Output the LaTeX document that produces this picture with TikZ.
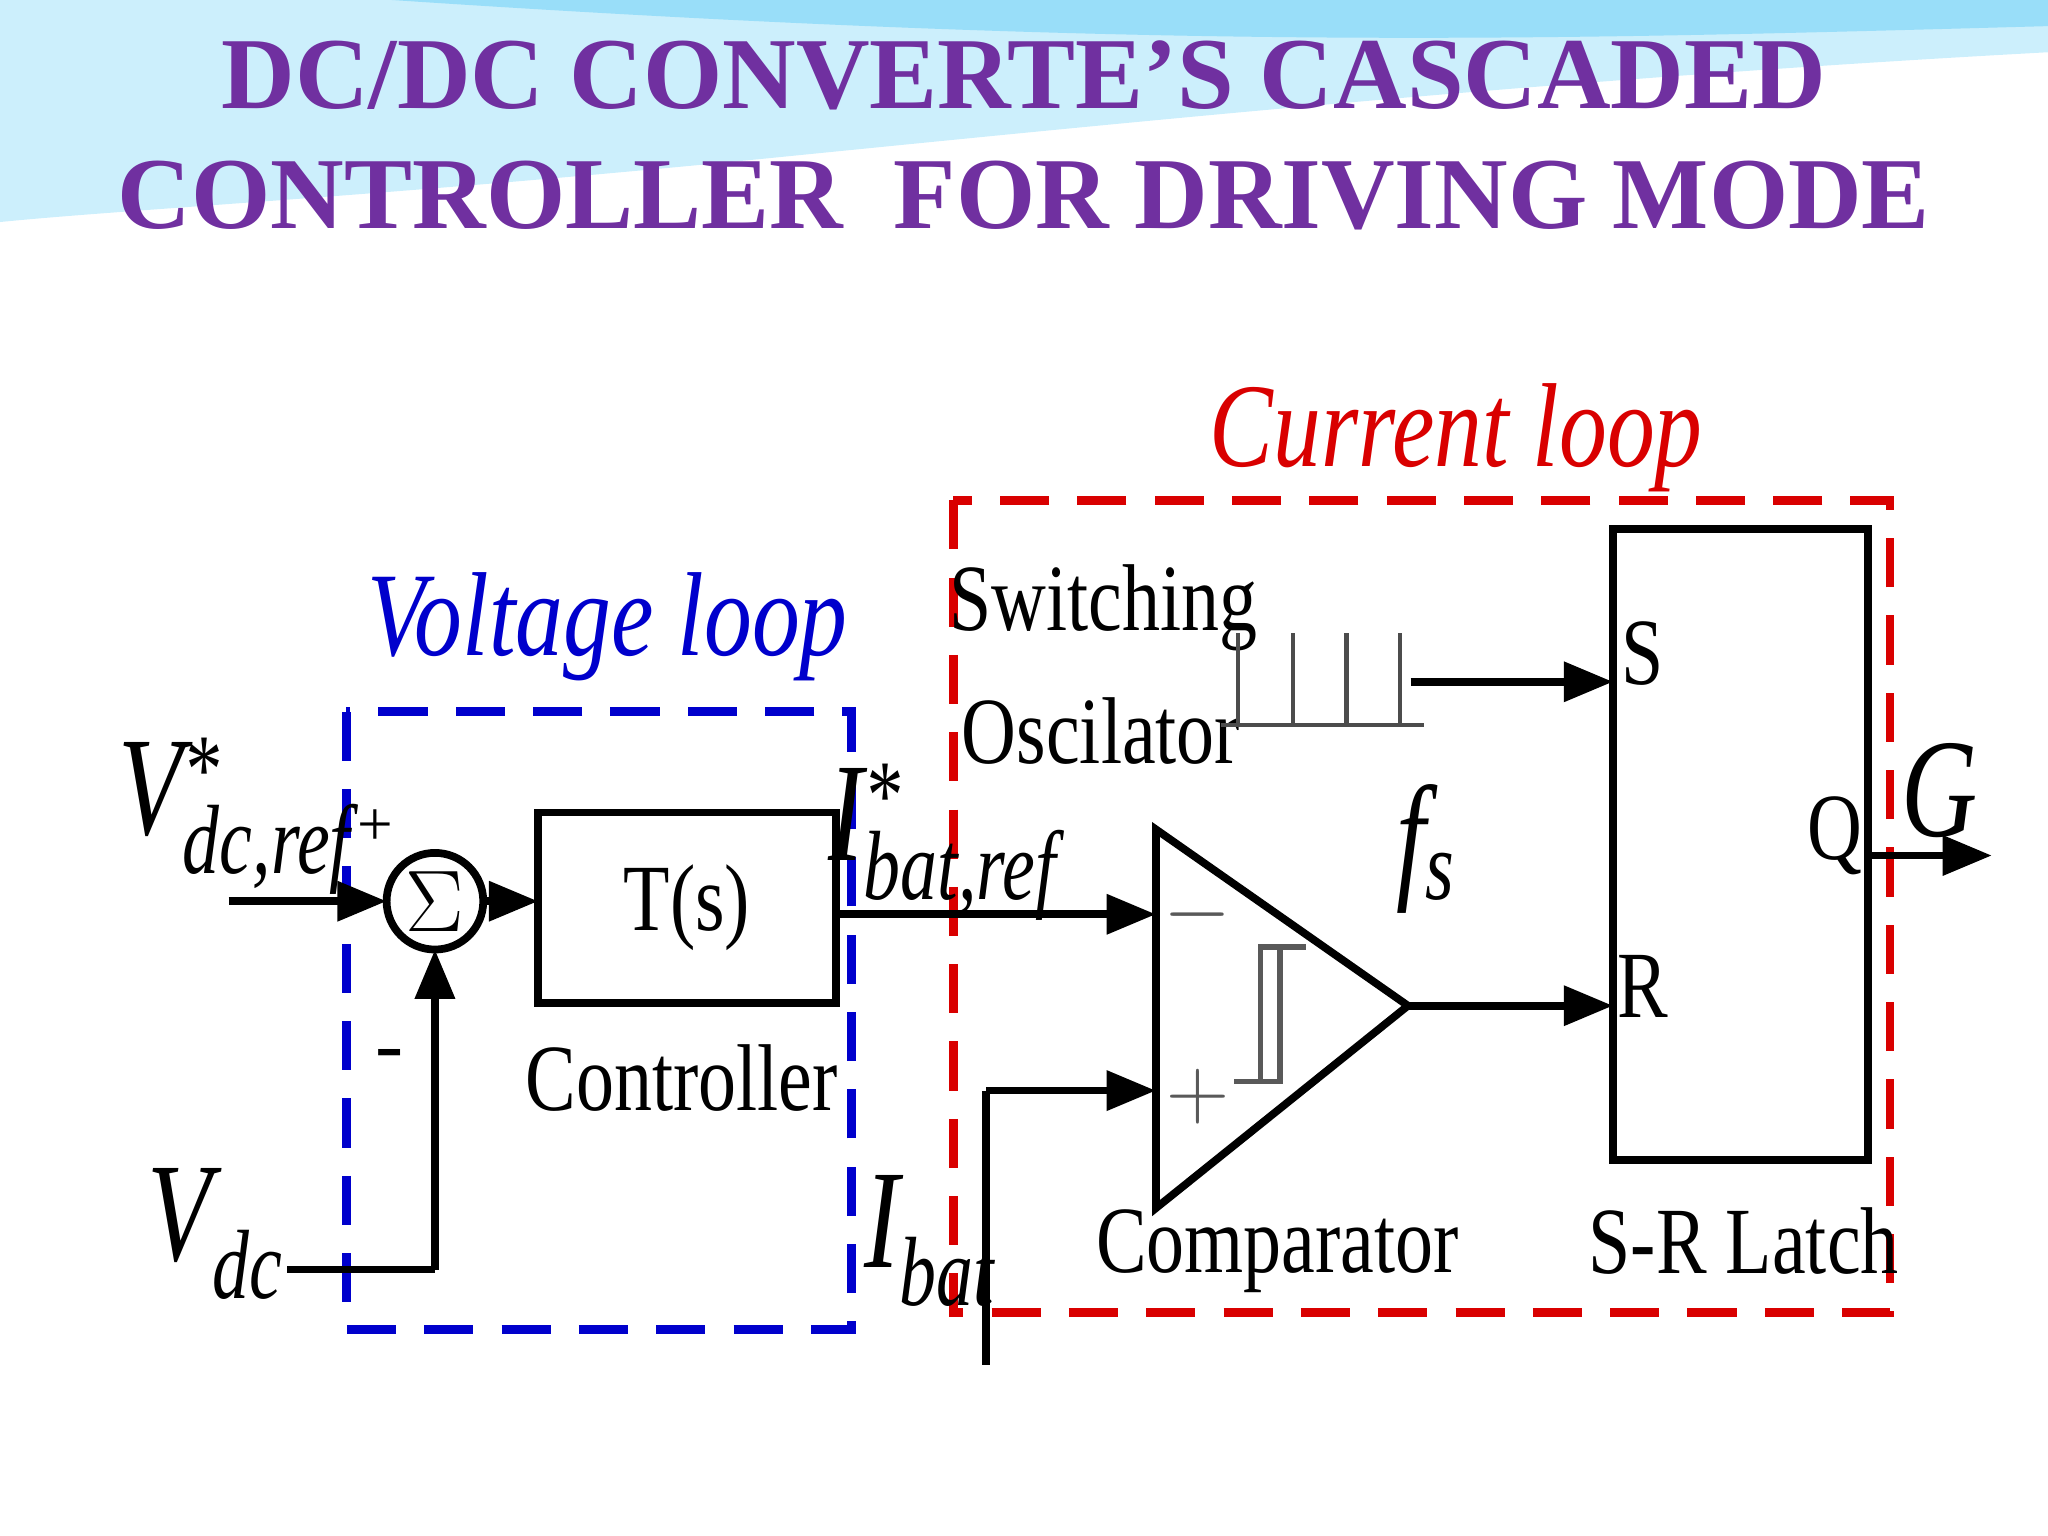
\documentclass[tikz,border=0pt]{standalone}
\usepackage{fontspec}
\setmainfont{Liberation Serif}
\usetikzlibrary{arrows.meta}
\definecolor{ttlc}{RGB}{112,48,160}
\newcommand{\vsub}[3]{#1\rlap{\textsuperscript{#2}}\textsubscript{#3}}
\begin{document}
\begin{tikzpicture}[x=0.01306cm,y=-0.01306cm,
 ln/.style={line width=2.2pt},
 ar/.style={ln,-{Triangle[length=14pt,width=11pt]}},
 lab/.style={font=\fontsize{34}{34}\selectfont\itshape, transform shape, xscale=0.8},
 mlab/.style={font=\fontsize{40}{40}\selectfont\itshape, transform shape, xscale=0.75},
 txt/.style={font=\fontsize{27}{27}\selectfont, transform shape, xscale=0.8},
 ttl/.style={font=\fontsize{29}{32}\selectfont\bfseries, text=ttlc}]
\useasboundingbox (0,0) rectangle (1568,1176);
\fill[cyan!20] (0,0) -- (1568,0) -- (1568,40) .. controls (1200,60) and (900,90) .. (600,120) .. controls (300,150) and (100,160) .. (0,170) -- cycle;
\fill[cyan!40] (300,0) -- (1568,0) -- (1568,20) .. controls (1200,30) and (900,40) .. (300,0) -- cycle;
\node[ttl] (t1) at (784,58) {DC/DC CONVERTE’S CASCADED};
\node[ttl] (t2) at (784,150) {CONTROLLER\ \ FOR DRIVING MODE};
% loops
\draw[blue!80!black, line width=2.5pt, dash pattern=on 14pt off 8pt] (265,545) rectangle (652,1018);
\draw[red!85!black, line width=2.5pt, dash pattern=on 14pt off 8pt] (730,383) rectangle (1447,1005);
\node[lab, text=blue!80!black] (vl) at (465,480) {Voltage loop};
\node[lab, text=red!85!black] (cl) at (1115,335) {Current loop};
% voltage loop
\coordinate (sc) at (333,690);
\draw[ln] (sc) circle[radius=37];
\node[font=\fontsize{26}{26}\selectfont] (sum) at (sc) {$\Sigma$};
\draw[ln] (412,622) rectangle (640,768);
\node[txt] (ts) at (526,695) {T(s)};
\node[txt] (ctl) at (522,825) {Controller};
\coordinate (vin) at (175,690);
\coordinate (sw0) at (296,690);
\draw[ar] (vin) -- (sw0);
\node[mlab] (vref) at (180,625) {\vsub{V}{*}{dc,ref}};
\node[font=\fontsize{18}{18}\selectfont] (pl) at (287,634) {+};
\node[font=\fontsize{24}{24}\selectfont] (mi) at (298,812) {-};
\node[mlab] (vdc) at (165,945) {\vsub{V}{}{dc}};
\coordinate (vd0) at (220,972);
\coordinate (vd1) at (333,972);
\coordinate (sbot) at (333,727);
\draw[ln] (vd0) -- (vd1);
\draw[ar] (vd1) -- (sbot);
\coordinate (sr) at (370,690);
\coordinate (tsl) at (412,690);
\draw[ar] (sr) -- (tsl);
% comparator
\coordinate (ca) at (885,635);
\coordinate (cb) at (885,925);
\coordinate (cc) at (1078,770);
\draw[ln] (ca) -- (cb) -- (cc) -- cycle;
\coordinate (cm) at (885,700);
\coordinate (cp) at (885,835);
\coordinate (tsr) at (640,700);
\draw[ar] (tsr) -- (cm);
\node[mlab] (iref) at (722,645) {\vsub{I}{*}{bat,ref}};
\node[font=\fontsize{28}{28}\selectfont, gray!70!black] at (917,700) {$-$};
\node[font=\fontsize{28}{28}\selectfont, gray!70!black] at (917,840) {$+$};
\draw[line width=1.5pt, gray!70!black] (945,828) -- (980,828) -- (980,725) -- (1000,725);
\draw[line width=1.5pt, gray!70!black] (965,828) -- (965,725) -- (980,725);
\coordinate (ib0) at (755,1045);
\coordinate (ib1) at (755,835);
\draw[ln] (ib0) -- (ib1);
\draw[ar] (ib1) -- (cp);
\node[mlab] (ibat) at (712,950) {\vsub{I}{}{bat}};
\node[txt] (cmp) at (978,958) {Comparator};
% latch
\draw[ln] (1235,405) rectangle (1430,888);
\coordinate (lr) at (1235,770);
\draw[ar] (cc) -- (lr);
\node[txt] at (1258,755) {R};
\node[txt] at (1258,500) {S};
\node[txt] at (1405,640) {Q};
\node[txt] (srl) at (1335,950) {S-R Latch};
\coordinate (g0) at (1430,655);
\coordinate (g) at (1525,655);
\draw[ar] (g0) -- (g);
\node[mlab] (gl) at (1485,605) {G};
% oscillator
\node[txt] (sw) at (845,465) {Switching};
\node[txt] (osc) at (843,560) {Oscilator};
\draw[line width=1.3pt, gray!60!black] (935,555) -- (1090,555);
\foreach \x in {948,990,1031,1072} \draw[line width=1.3pt, gray!60!black] (\x,555) -- (\x,485);
\coordinate (s0) at (1080,522);
\coordinate (s1) at (1235,522);
\draw[ar] (s0) -- (s1);
\node[mlab] (fs) at (1092,650) {\vsub{f}{}{s}};
\end{tikzpicture}
\end{document}
